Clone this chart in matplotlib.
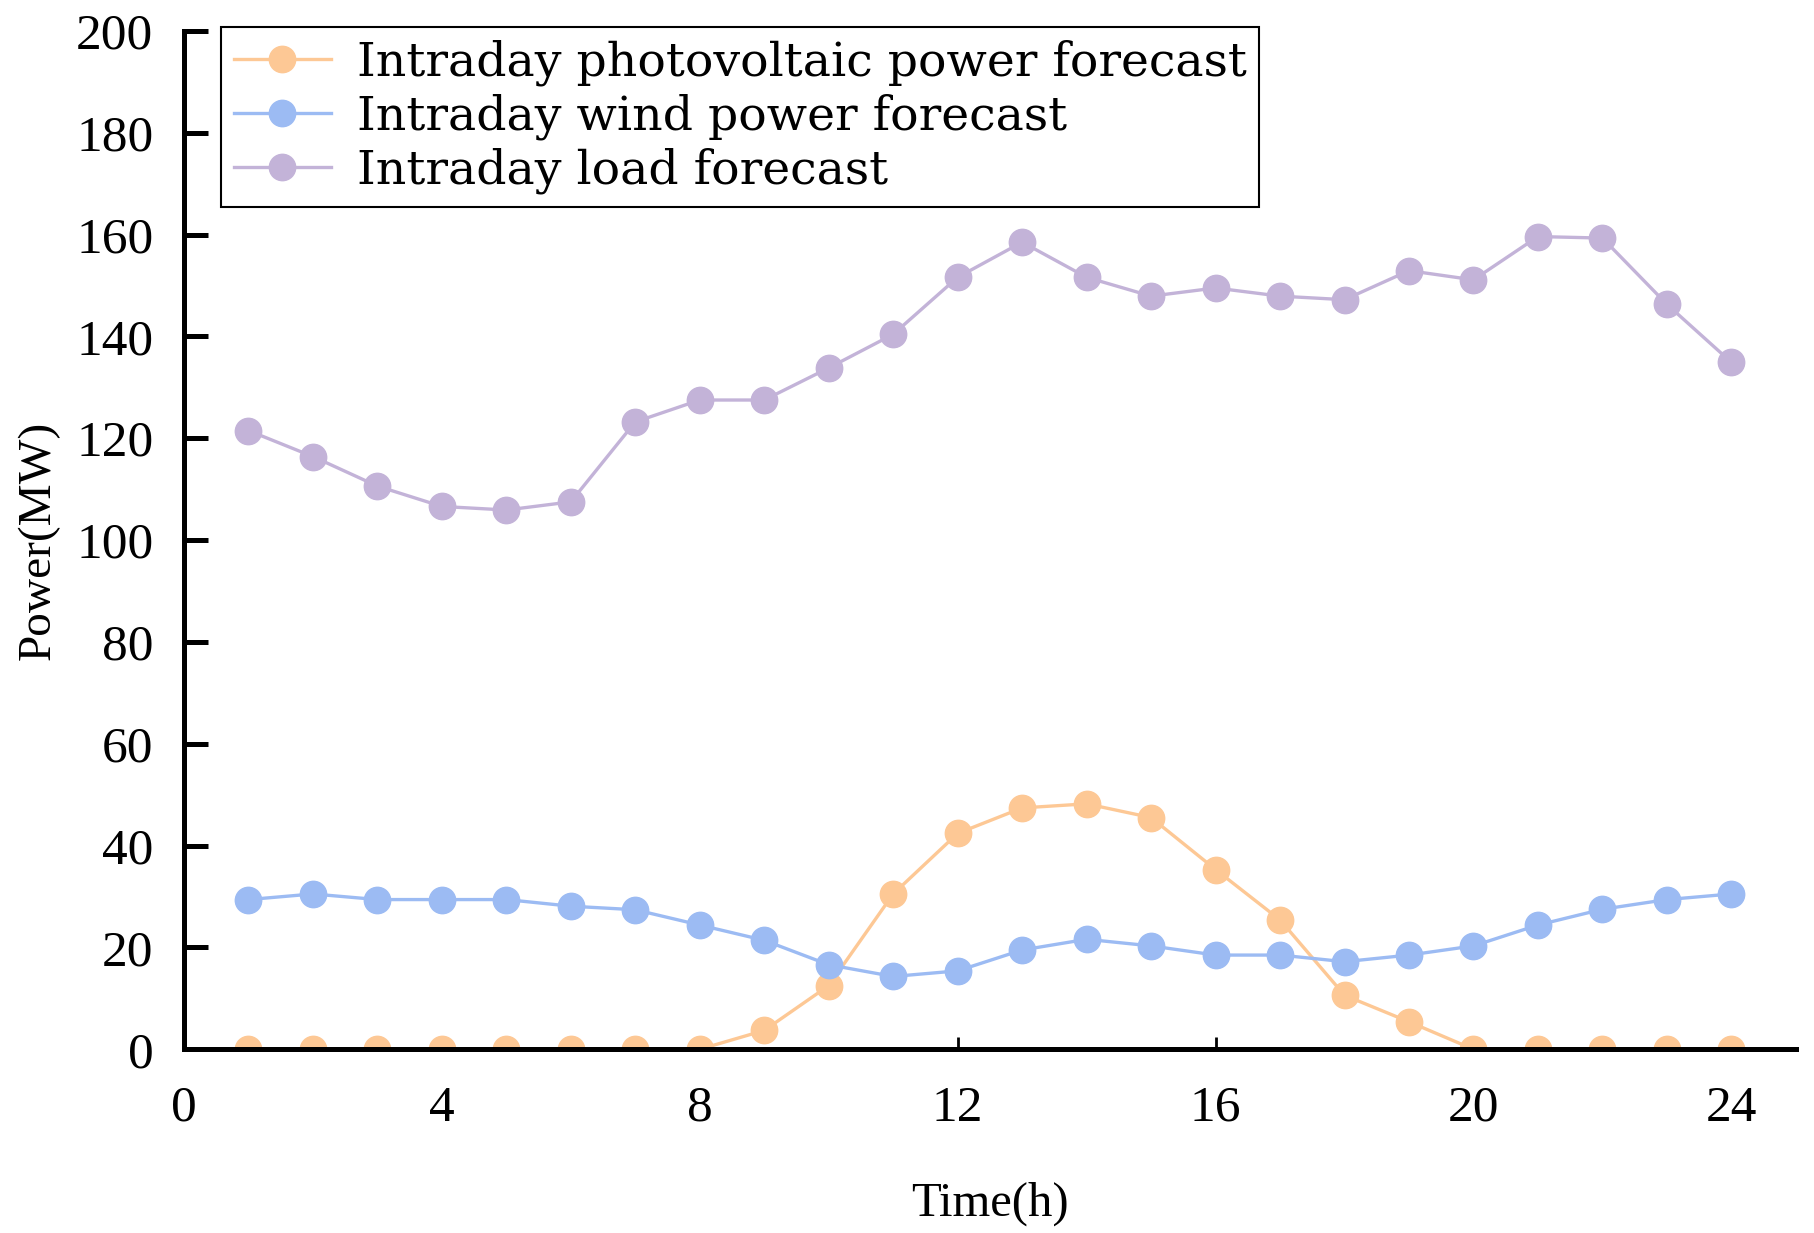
import matplotlib.pyplot as plt

hours = list(range(1, 25))

pv_forecast = [0, 0, 0, 0, 0, 0, 0, 0, 3.7, 12.5, 30.5, 42.4,
               47.4, 48.2, 45.5, 35.3, 25.4, 10.6, 5.4, 0, 0, 0, 0, 0]
wind_forecast = [29.4, 30.5, 29.4, 29.4, 29.4, 28.1, 27.4, 24.4, 21.4, 16.6, 14.3, 15.4,
                 19.5, 21.6, 20.3, 18.5, 18.5, 17.2, 18.5, 20.3, 24.4, 27.5, 29.4, 30.5]
load_forecast = [121.5, 116.4, 110.6, 106.6, 105.9, 107.5, 123.2, 127.5, 127.5, 133.8, 140.4, 151.6,
                 158.5, 151.6, 147.9, 149.5, 147.9, 147.2, 152.9, 151.1, 159.6, 159.3, 146.3, 134.9]

labels = ['Intraday photovoltaic power forecast',
          'Intraday wind power forecast',
          'Intraday load forecast']
colores = ['#FDC895', '#9CBBF3', '#C3B3D8']

x_ticks = [0, 4, 8, 12, 16, 20, 24]
y_ticks = list(range(0, 201, 20))

plt.rcParams['font.family'] = ['Liberation Serif', 'DejaVu Serif']

fig = plt.figure(figsize=(18.14, 12.33), dpi=100)
ax = fig.add_axes([0.1014, 0.149, 0.8886, 0.826])

for serie, nome, cor in zip([pv_forecast, wind_forecast, load_forecast], labels, colores):
    ax.plot(hours, serie, color=cor, marker='o', markersize=19, linewidth=2.4, label=nome)

ax.set_xlim(0, 25)
ax.set_ylim(0, 200)
ax.set_xticks(x_ticks)
ax.set_yticks(y_ticks)

for lado in ['top', 'right']:
    ax.spines[lado].set_visible(False)
for lado in ['left', 'bottom']:
    ax.spines[lado].set_linewidth(3.6)

ax.tick_params(axis='y', direction='in', length=17, width=3.6, labelsize=37, pad=22)
ax.tick_params(axis='x', direction='in', length=8.5, width=2, labelsize=37, pad=26)

ax.set_xlabel('Time(h)', fontsize=35, labelpad=36)
ax.set_ylabel('Power(MW)', fontsize=34, labelpad=12)

leg = ax.legend(loc='upper left', bbox_to_anchor=(0.023, 1.004), frameon=True,
                prop={'family': 'DejaVu Serif', 'size': 34},
                fancybox=False, edgecolor='black', framealpha=1, handlelength=2.05,
                labelspacing=0.16, borderpad=0.27, borderaxespad=0, handletextpad=0.55)
leg.get_frame().set_linewidth(1.5)

fig.savefig('out.png', dpi=100)
